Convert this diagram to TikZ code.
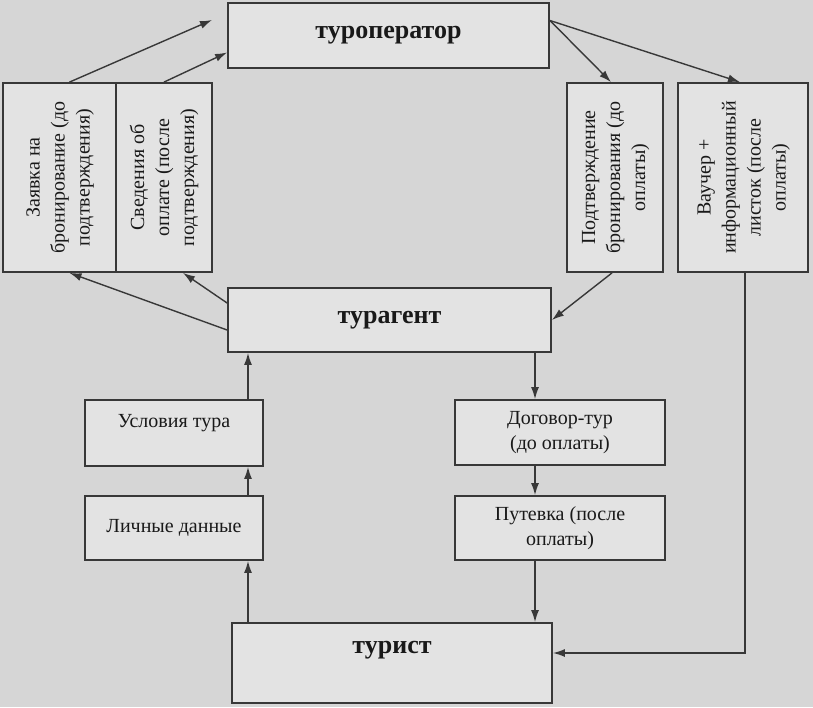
\documentclass[tikz,border=0pt]{standalone}
\usepackage{fontspec}
\setmainfont{Liberation Serif}
\usepackage{graphicx}
\usetikzlibrary{arrows.meta,calc}
\newcommand{\vlines}[1]{\rotatebox{90}{\begin{tabular}{@{}c@{}}#1\end{tabular}}}

\begin{document}
\begin{tikzpicture}[x=1pt,y=-1pt,
		box/.style={draw=black!78, line width=1.8pt, fill=black!11, inner sep=0pt, align=center, text=black!90, font=\fontsize{20}{25}\selectfont},
		head/.style={box, font=\bfseries\fontsize{26}{31}\selectfont},
		arr/.style={draw=black!78, line width=1.4pt, -{Latex[length=12pt,width=8pt]}}]
			\fill[black!16] (0,0) rectangle (813,707);
			\useasboundingbox (0,0) rectangle (813,707);
			% top row
			\node[head, minimum width=321pt, minimum height=65pt] (turop) at (388.5,35.5) {туроператор};
			\node[box, minimum width=113pt, minimum height=189pt] (zayavka) at (59.5,177.5) {\vlines{Заявка на\\бронирование (до\\подтверждения)}};
			\node[box, minimum width=96pt, minimum height=189pt] (svedeniya) at (164,177.5) {\vlines{Сведения об\\оплате (после\\подтверждения)}};
			\node[box, minimum width=96pt, minimum height=189pt] (podtv) at (615,177.5) {\vlines{Подтверждение\\бронирования (до\\оплаты)}};
			\node[box, minimum width=130pt, minimum height=189pt] (vaucher) at (743,177.5) {\vlines{Ваучер +\\информационный\\листок (после\\оплаты)}};
			\node[head, minimum width=323pt, minimum height=64pt] (turag) at (389.5,320) {турагент};
			% lower part
			\node[box, minimum width=178pt, minimum height=66pt] (usloviya) at (174,433) {Условия тура\\~};
			\node[box, minimum width=178pt, minimum height=64pt] (lichnye) at (174,528) {Личные данные};
			\node[box, minimum width=210pt, minimum height=65pt] (dogovor) at (560,432.5) {Договор-тур\\(до оплаты)};
			\node[box, minimum width=210pt, minimum height=64pt] (putevka) at (560,528) {Путевка (после\\оплаты)};
			\node[head, minimum width=320pt, minimum height=80pt] (turist) at (392,663) {турист\\~};
			\coordinate (a1) at (212,20);
			\coordinate (lx) at (248,0);
			\coordinate (rx) at (535,0);
			% arrows
			\draw[arr] ($(zayavka.north)+(10,0)$) -- (a1);
			\draw[arr] (svedeniya.north) -- ($(turop.west)+(0,17)$);
			\draw[arr] ($(turag.west)+(0,-17)$) -- ($(svedeniya.south)+(19,0)$);
			\draw[arr] ($(turag.west)+(0,10)$) -- ($(zayavka.south)+(10,0)$);
			\draw[arr] ($(turop.east)+(0,-15)$) -- ($(podtv.north)+(-4,0)$);
			\draw[arr] ($(turop.east)+(0,-15)$) -- ($(vaucher.north)+(-3,0)$);
			\draw[arr] ($(podtv.south)+(-3,0)$) -- (turag.east);
			\draw[arr] ($(vaucher.south)+(2,0)$) |- ($(turist.east)+(0,-10)$);
			\draw[arr] (lx |- usloviya.north) -- (lx |- turag.south);
			\draw[arr] (lx |- lichnye.north) -- (lx |- usloviya.south);
			\draw[arr] (lx |- turist.north) -- (lx |- lichnye.south);
			\draw[arr] (rx |- turag.south) -- (rx |- dogovor.north);
			\draw[arr] (rx |- dogovor.south) -- (rx |- putevka.north);
			\draw[arr] (rx |- putevka.south) -- (rx |- turist.north);
		\end{tikzpicture}
\end{document}
